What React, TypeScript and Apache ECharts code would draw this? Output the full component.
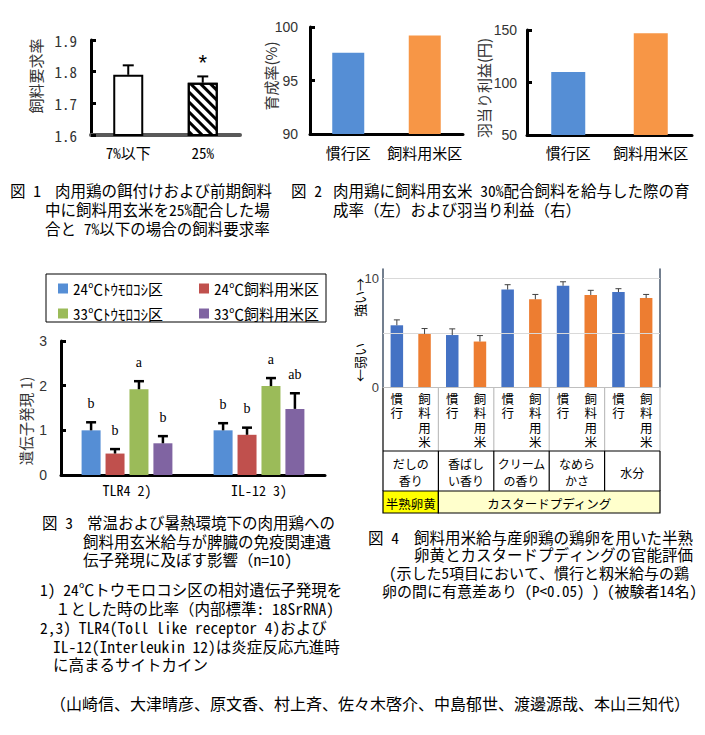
import React, { useEffect, useRef } from 'react';
import * as echarts from 'echarts';

// ---------- Fig 1 ----------
const fig1Categories = ['7%以下', '25%'];
const fig1Values = [1.79, 1.765];
const fig1Errors = [0.03, 0.02];
const fig1Sig = ['', '*'];

// ---------- Fig 2 ----------
const fig2Categories = ['慣行区', '飼料用米区'];
const fig2Survival = [97.6, 99.2];
const fig2Profit = [110, 147];

// ---------- Fig 3 ----------
const fig3Categories = ['TLR4 2)', 'IL-12 3)'];
const fig3SeriesNames = ['24℃ﾄｳﾓﾛｺｼ区', '24℃飼料用米区', '33℃ﾄｳﾓﾛｺｼ区', '33℃飼料用米区'];
const corn24Values = [1.0, 1.0];
const rice24Values = [0.48, 0.9];
const corn33Values = [1.92, 1.99];
const rice33Values = [0.71, 1.48];
const corn24Errors = [0.18, 0.16];
const rice24Errors = [0.1, 0.16];
const corn33Errors = [0.18, 0.18];
const rice33Errors = [0.16, 0.35];
const corn24Letters = ['b', 'b'];
const rice24Letters = ['b', 'b'];
const corn33Letters = ['a', 'a'];
const rice33Letters = ['b', 'ab'];

// ---------- Fig 4 ----------
const fig4Groups = ['だしの\n香り', '香ばし\nい香り', 'クリーム\nの香り', 'なめら\nかさ', '水分'];
const fig4Treatments = ['慣行', '飼料用米'];
const fig4Conventional = [5.7, 4.8, 9.0, 9.35, 8.77];
const fig4ConventionalErr = [0.5, 0.57, 0.45, 0.37, 0.31];
const fig4Rice = [4.9, 4.2, 8.1, 8.5, 8.21];
const fig4RiceErr = [0.5, 0.55, 0.45, 0.43, 0.34];
const fig4EggTypes = ['半熟卵黄', 'カスタードプディング'];
const fig4EggSpans = [1, 4];

const JP = "'Noto Sans CJK JP', sans-serif";
const MONO = "'Noto Sans Mono CJK JP', 'Noto Sans CJK JP', monospace";
const SANS = "'Liberation Sans', Arial, sans-serif";
const SERIF = "'Liberation Serif', 'Times New Roman', serif";

const BLUE2 = '#558ED5';
const ORANGE2 = '#F79646';
const fig3Colors = ['#558ED5', '#C0504D', '#9BBB59', '#8064A2'];
const BLUE4 = '#4472C4';
const ORANGE4 = '#ED7D31';

function errSeries(
  xAxisIndex: number,
  yAxisIndex: number,
  values: number[],
  errors: number[],
  o: { offset?: number; cap: number; color: string; width: number; labels?: string[]; gap?: number; fontSize?: number; fontFamily?: string }
) {
  return {
    type: 'custom',
    xAxisIndex,
    yAxisIndex,
    z: 10,
    silent: true,
    encode: { x: 0, y: 1 },
    data: values.map((v, i) => [i, v, errors[i]]),
    renderItem: (params: any, api: any) => {
      const x = api.value(0);
      const v = api.value(1);
      const e = api.value(2);
      const b = api.coord([x, v]);
      const t = api.coord([x, v + e]);
      const cx = b[0] + (o.offset || 0);
      const st = { stroke: o.color, lineWidth: o.width };
      const children: any[] = [
        { type: 'line', shape: { x1: cx, y1: b[1], x2: cx, y2: t[1] }, style: st },
        { type: 'line', shape: { x1: cx - o.cap, y1: t[1], x2: cx + o.cap, y2: t[1] }, style: st },
      ];
      const lab = o.labels ? o.labels[params.dataIndex] : '';
      if (lab) {
        children.push({
          type: 'text',
          x: cx,
          y: t[1] - (o.gap || 16),
          style: { text: lab, textAlign: 'center', textVerticalAlign: 'middle', fontSize: o.fontSize || 14, fontFamily: o.fontFamily || SERIF, fill: '#000' },
        });
      }
      return { type: 'group', children };
    },
  };
}

function txt(x: number, y: number, text: string, fontSize = 15.5, extra: any = {}) {
  return {
    type: 'text',
    x,
    y,
    silent: true,
    style: { text, fontSize, fontFamily: MONO, fill: '#000', textAlign: 'left', textVerticalAlign: 'middle', ...extra },
  };
}

function vtxt(x: number, y: number, text: string, fontSize = 15, color = '#333') {
  return {
    type: 'text',
    x,
    y,
    rotation: Math.PI / 2,
    silent: true,
    style: { text, fontSize, fontFamily: JP, fill: color, textAlign: 'center', textVerticalAlign: 'middle' },
  };
}

function line(x1: number, y1: number, x2: number, y2: number, stroke = '#000', lineWidth = 1) {
  return { type: 'line', silent: true, shape: { x1, y1, x2, y2 }, style: { stroke, lineWidth } };
}

// layout constants
const G4L = 383, G4T = 269, G4W = 277, G4B = 387;
const ROW1B = 451, ROW2B = 491, ROW3B = 513;

function buildOption() {
  const fig4Cats = fig4Groups.flatMap((g, gi) => fig4Treatments.map((t) => gi + '|' + t));
  const fig4Data = fig4Groups.flatMap((g, gi) => [
    { value: fig4Conventional[gi], itemStyle: { color: BLUE4 } },
    { value: fig4Rice[gi], itemStyle: { color: ORANGE4 } },
  ]);
  const fig4Vals = fig4Groups.flatMap((g, gi) => [fig4Conventional[gi], fig4Rice[gi]]);
  const fig4Errs = fig4Groups.flatMap((g, gi) => [fig4ConventionalErr[gi], fig4RiceErr[gi]]);

  const groupW = G4W / fig4Groups.length;
  const table: any[] = [];
  let gStart = 0;
  fig4EggTypes.forEach((name, i) => {
    const x0 = G4L + gStart * groupW;
    const w = fig4EggSpans[i] * groupW;
    table.push({
      type: 'rect', silent: true,
      shape: { x: x0, y: ROW2B, width: w, height: ROW3B - ROW2B },
      style: { fill: i === 0 ? '#FFFF00' : '#FFFFCC', stroke: '#000', lineWidth: 1.2 },
    });
    table.push({
      type: 'text', silent: true, x: x0 + w / 2, y: (ROW2B + ROW3B) / 2 + 1,
      style: { text: name, fontSize: 12.5, fontFamily: JP, fill: '#000', textAlign: 'center', textVerticalAlign: 'middle' },
    });
    gStart += fig4EggSpans[i];
  });
  fig4Groups.forEach((g, gi) => {
    table.push({
      type: 'text', silent: true, x: G4L + (gi + 0.5) * groupW, y: (ROW1B + ROW2B) / 2 + 1,
      style: { text: g, fontSize: 12, lineHeight: 17, fontFamily: JP, fill: '#000', textAlign: 'center', textVerticalAlign: 'middle' },
    });
  });
  for (let gi = 1; gi < fig4Groups.length; gi++) {
    const x = G4L + gi * groupW;
    table.push(line(x, G4B, x, ROW1B, '#BFBFBF', 1.2));
    table.push(line(x, ROW1B, x, ROW2B, '#000', 1.2));
  }
  table.push(line(G4L + G4W, G4B, G4L + G4W, ROW1B, '#BFBFBF', 1.2));
  table.push(line(G4L + G4W, ROW1B, G4L + G4W, ROW2B, '#000', 1.2));
  table.push(line(G4L, G4B, G4L, ROW2B, '#000', 1.2));
  table.push(line(G4L, ROW1B, G4L + G4W, ROW1B, '#000', 1.2));

  const captions = [
    txt(10, 190, '図 1'),
    txt(55, 190, '肉用鶏の餌付けおよび前期飼料'),
    txt(45, 209, '中に飼料用玄米を25%配合した場'),
    txt(45, 228, '合と 7%以下の場合の飼料要求率'),
    txt(291, 190, '図 2'),
    txt(333, 190, '肉用鶏に飼料用玄米 30%配合飼料を給与した際の育'),
    txt(333, 209, '成率（左）および羽当り利益（右）'),
    txt(42, 522, '図 3'),
    txt(87, 522, '常温および暑熱環境下の肉用鶏への'),
    txt(83, 541, '飼料用玄米給与が脾臓の免疫関連遺'),
    txt(83, 559, '伝子発現に及ぼす影響（n=10)'),
    txt(40, 589, '1) 24℃トウモロコシ区の相対遺伝子発現を'),
    txt(55, 608, '１とした時の比率（内部標準: 18SrRNA)'),
    txt(40, 627, '2,3) TLR4(Toll like receptor 4)および'),
    txt(53, 646, 'IL-12(Interleukin 12)は炎症反応亢進時'),
    txt(53, 664, 'に高まるサイトカイン'),
    txt(368, 537, '図 4'),
    txt(414, 537, '飼料用米給与産卵鶏の鶏卵を用いた半熟'),
    txt(414, 554, '卵黄とカスタードプディングの官能評価'),
    txt(389, 572, '(示した5項目において、慣行と籾米給与の鶏', 15),
    txt(382, 590, '卵の間に有意差あり (P<0.05) ) (被験者14名)', 15),
    txt(50, 703, '（山崎信、大津晴彦、原文香、村上斉、佐々木啓介、中島郁世、渡邊源哉、本山三知代）', 16),
  ];

  const names = [
    vtxt(35, 76, '飼料要求率', 15),
    vtxt(270, 76, '育成率(%)', 15),
    vtxt(483, 88, '羽当り利益(円)', 15),
    vtxt(25, 421, '遺伝子発現 1)', 14.5),
    vtxt(359, 330, '←弱い　　強い→', 13, '#000'),
  ];

  const legendBox = {
    type: 'rect', silent: true,
    shape: { x: 46, y: 274, width: 280, height: 48 },
    style: { fill: 'none', stroke: '#000', lineWidth: 1 },
  };

  const blackAxis = { show: true, lineStyle: { color: '#000', width: 3 } };
  const inTick = { show: true, inside: true, length: 5, lineStyle: { color: '#000', width: 3 } };

  const legendCommon = {
    orient: 'vertical',
    top: 281,
    padding: 0,
    itemWidth: 10,
    itemHeight: 10,
    itemGap: 10,
    icon: 'rect',
    textStyle: { fontSize: 15, lineHeight: 14, fontFamily: MONO, color: '#000' },
  };

  const fig3Vals = [corn24Values, rice24Values, corn33Values, rice33Values];
  const fig3Errs = [corn24Errors, rice24Errors, corn33Errors, rice33Errors];
  const fig3Lets = [corn24Letters, rice24Letters, corn33Letters, rice33Letters];
  const barW3 = 19;
  const gap3 = barW3 * 0.26;

  return {
    animation: false,
    backgroundColor: '#fff',
    grid: [
      { left: 91, top: 40, width: 149, height: 95 },
      { left: 310, top: 27, width: 153, height: 107 },
      { left: 527, top: 30, width: 165, height: 105 },
      { left: 61, top: 341, width: 264, height: 134 },
      { left: G4L, top: G4T, width: G4W, height: G4B - G4T },
    ],
    legend: [
      { ...legendCommon, left: 58, data: [fig3SeriesNames[0], fig3SeriesNames[2]] },
      { ...legendCommon, left: 199, data: [fig3SeriesNames[1], fig3SeriesNames[3]] },
    ],
    xAxis: [
      {
        gridIndex: 0, type: 'category', data: fig1Categories,
        axisLine: { show: true, lineStyle: { color: '#595959', width: 4 } }, axisTick: { show: false },
        axisLabel: { interval: 0, fontSize: 15, fontFamily: MONO, color: '#000', margin: 10 },
      },
      {
        gridIndex: 1, type: 'category', data: fig2Categories, axisLine: blackAxis, axisTick: { show: false },
        axisLabel: { interval: 0, fontSize: 15, fontFamily: JP, color: '#000', margin: 11 },
      },
      {
        gridIndex: 2, type: 'category', data: fig2Categories, axisLine: blackAxis, axisTick: { show: false },
        axisLabel: { interval: 0, fontSize: 15, fontFamily: JP, color: '#000', margin: 10 },
      },
      {
        gridIndex: 3, type: 'category', data: fig3Categories, axisLine: blackAxis, axisTick: { show: false },
        axisLabel: { interval: 0, fontSize: 14, fontFamily: MONO, color: '#000', margin: 8 },
      },
      {
        gridIndex: 4, type: 'category', data: fig4Cats,
        axisLine: { show: true, lineStyle: { color: '#BFBFBF', width: 1.2 } }, axisTick: { show: false },
        axisLabel: {
          interval: 0, fontSize: 12.5, lineHeight: 14.5, fontFamily: JP, color: '#000', margin: 4,
          formatter: (v: string) => v.split('|')[1].split('').join('\n'),
        },
      },
    ],
    yAxis: [
      {
        gridIndex: 0, type: 'value', min: 1.6, max: 1.9, interval: 0.1,
        axisLine: blackAxis, axisTick: inTick, splitLine: { show: false },
        axisLabel: { formatter: (v: number) => v.toFixed(1), fontSize: 15, fontFamily: MONO, color: '#333', margin: 14 },
      },
      {
        gridIndex: 1, type: 'value', min: 90, max: 100, interval: 5,
        axisLine: blackAxis, axisTick: inTick, splitLine: { show: false },
        axisLabel: { fontSize: 14, fontFamily: SANS, color: '#333', margin: 12 },
      },
      {
        gridIndex: 2, type: 'value', min: 50, max: 150, interval: 50,
        axisLine: blackAxis, axisTick: inTick, splitLine: { show: false },
        axisLabel: { fontSize: 14, fontFamily: SANS, color: '#333', margin: 10 },
      },
      {
        gridIndex: 3, type: 'value', min: 0, max: 3, interval: 1,
        axisLine: blackAxis, axisTick: inTick, splitLine: { show: false },
        axisLabel: { fontSize: 14, fontFamily: SANS, color: '#333', margin: 14 },
      },
      {
        gridIndex: 4, type: 'value', min: 0, max: 10.9, interval: 5,
        axisLine: { show: true, lineStyle: { color: '#44546A', width: 1.5 } }, axisTick: { show: false },
        splitLine: { show: false },
        axisLabel: {
          fontSize: 13, fontFamily: SANS, color: '#404040', margin: 4,
          formatter: (v: number) => (v === 0 || v === 10 ? String(v) : ''),
        },
      },
      {
        gridIndex: 4, type: 'value', position: 'right', min: 0, max: 10.9, interval: 5,
        axisLine: { show: true, lineStyle: { color: '#44546A', width: 1.5 } }, axisTick: { show: false },
        axisLabel: { show: false }, splitLine: { show: false },
      },
    ],
    series: [
      {
        type: 'bar', xAxisIndex: 0, yAxisIndex: 0, barWidth: 30,
        data: fig1Values.map((v, i) => ({
          value: v,
          itemStyle: i === 0
            ? { color: '#fff', borderColor: '#000', borderWidth: 2 }
            : {
                color: '#fff', borderColor: '#000', borderWidth: 2,
                decal: { symbol: 'rect', symbolSize: 1, dashArrayX: [1, 0], dashArrayY: [2.5, 3.5], rotation: Math.PI / 4, color: '#000' },
              },
        })),
      },
      errSeries(0, 0, fig1Values, fig1Errors, { cap: 5.5, color: '#000', width: 2, labels: fig1Sig, gap: 14, fontSize: 22, fontFamily: SANS }),
      {
        type: 'bar', xAxisIndex: 1, yAxisIndex: 1, barWidth: 32,
        data: fig2Survival.map((v, i) => ({ value: v, itemStyle: { color: i === 0 ? BLUE2 : ORANGE2 } })),
      },
      {
        type: 'bar', xAxisIndex: 2, yAxisIndex: 2, barWidth: 34,
        data: fig2Profit.map((v, i) => ({ value: v, itemStyle: { color: i === 0 ? BLUE2 : ORANGE2 } })),
      },
      ...fig3Vals.map((vals, si) => ({
        type: 'bar', name: fig3SeriesNames[si], xAxisIndex: 3, yAxisIndex: 3,
        barWidth: barW3, barGap: '26%', data: vals, itemStyle: { color: fig3Colors[si] },
      })),
      ...fig3Vals.map((vals, si) =>
        errSeries(3, 3, vals, fig3Errs[si], {
          offset: (si - 1.5) * (barW3 + gap3), cap: 5, color: '#000', width: 2.5,
          labels: fig3Lets[si], gap: 19, fontSize: 14, fontFamily: SERIF,
        })
      ),
      {
        type: 'bar', xAxisIndex: 4, yAxisIndex: 4, barWidth: 12.5, data: fig4Data,
        markLine: {
          silent: true, symbol: ['none', 'none'], label: { show: false },
          lineStyle: { color: '#D9D9D9', width: 1, type: 'solid' },
          data: [{ yAxis: 5 }, { yAxis: 10 }],
        },
      },
      errSeries(4, 4, fig4Vals, fig4Errs, { cap: 3, color: '#404040', width: 1 }),
    ],
    graphic: [...captions, ...names, legendBox, ...table],
  };
}

export default function App() {
  const ref = useRef<HTMLDivElement>(null);
  useEffect(() => {
    const chart = echarts.init(ref.current as HTMLDivElement, null, { renderer: 'svg' });
    chart.setOption(buildOption() as any);
    return () => chart.dispose();
  }, []);
  return (
    <div
      ref={ref}
      style={{ position: 'absolute', left: 0, top: 0, width: 705, height: 735, background: '#fff' }}
    />
  );
}
